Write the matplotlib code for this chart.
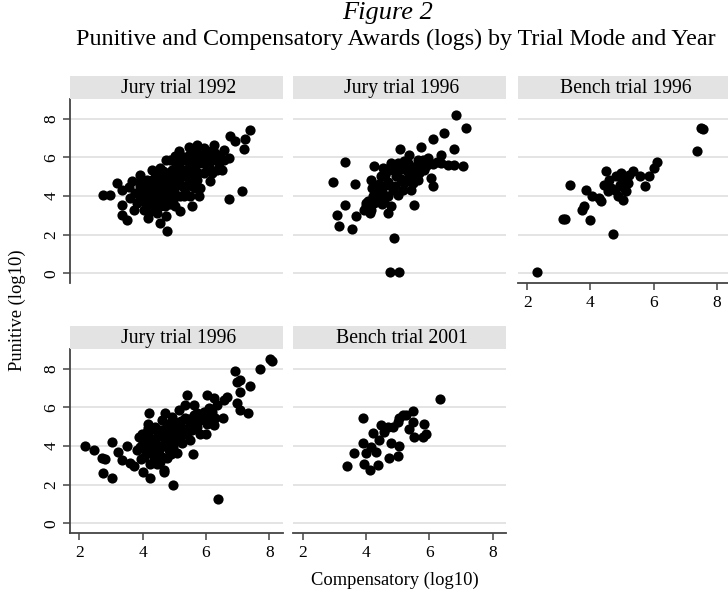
import matplotlib
matplotlib.use("Agg")
import matplotlib.pyplot as plt

plt.rcParams["font.family"] = ["Liberation Serif", "DejaVu Serif"]

# Jury trial 1992
jury92_x = [2.75, 2.95, 3.20, 3.34, 3.34, 3.50, 3.34, 3.55, 3.66, 3.60, 3.71, 3.92, 3.92, 3.92, 4.18,
            4.29, 4.34, 4.23, 4.55, 4.78, 4.74, 4.74, 5.03, 5.19, 5.13, 5.45, 5.71, 5.77, 5.55, 5.77,
            6.14, 6.24, 6.35, 6.50, 6.71, 6.56, 6.77, 6.93, 7.19, 7.24, 7.40, 6.71, 7.14,
            4.13, 4.24, 4.39, 4.45, 4.50, 4.55, 4.66, 4.76, 4.87, 4.92, 4.97, 5.08, 5.13, 5.24, 5.29,
            5.34, 5.40, 5.50, 5.55, 5.61, 5.66, 5.71, 5.82, 5.87, 5.92, 6.03, 6.08, 6.19, 6.29, 6.40,
            6.45, 6.56, 6.19,
            4.55, 4.66, 4.34, 4.03, 4.18, 3.81, 4.03, 4.87, 5.03, 5.19, 5.34, 5.50, 5.66, 5.82, 5.19,
            5.45, 5.92, 6.03, 5.61, 4.03, 4.45, 4.24, 4.55, 4.39, 3.92, 3.76, 4.66, 4.87, 5.03, 5.24,
            5.40,
            4.50, 4.60, 4.70, 4.40, 4.80, 4.30, 5.00, 4.90, 5.10, 4.60,
            4.35, 4.45, 4.55, 4.65, 4.75, 4.85, 4.95, 5.05, 5.15, 5.25, 5.35, 5.45, 5.55, 5.65, 5.75,
            5.85, 5.45, 5.00, 4.60, 4.30, 4.20, 4.10, 4.85, 5.30, 6.00, 6.30, 4.70, 4.40]
jury92_y = [4.05, 4.05, 4.67, 3.54, 3.03, 2.77, 4.29, 4.46, 4.75, 3.89, 3.28, 5.10, 4.50, 3.98, 2.85,
            5.36, 4.67, 3.98, 2.60, 2.20, 2.94, 5.84, 3.46, 3.20, 6.31, 6.53, 6.65, 6.22, 3.46, 3.98,
            4.75, 6.65, 5.36, 5.36, 5.96, 6.39, 7.08, 6.83, 6.45, 6.95, 7.43, 3.84, 4.23,
            4.84, 4.32, 4.49, 3.80, 5.01, 4.15, 4.67, 5.18, 4.32, 5.36, 3.80, 4.84, 5.70, 4.49, 5.36,
            5.88, 5.01, 5.53, 4.49, 6.05, 5.36, 4.84, 5.70, 6.39, 5.18, 6.05, 5.53, 5.88, 6.22, 5.70,
            6.05, 5.88, 5.18,
            3.46, 3.72, 3.46, 3.72, 3.54, 3.63, 4.32, 5.88, 6.05, 3.98, 4.15, 3.98, 4.41, 4.41, 6.13,
            6.13, 6.48, 6.31, 6.39, 3.28, 3.11, 3.20, 5.44, 5.18, 4.75, 4.15, 4.06, 4.84, 4.49, 5.01,
            4.58,
            4.40, 4.90, 4.30, 4.70, 4.00, 4.10, 4.20, 4.60, 5.10, 3.90,
            4.35, 4.95, 4.55, 5.30, 4.45, 5.05, 4.15, 5.55, 4.75, 5.20, 4.45, 5.30, 4.95, 5.60, 5.20,
            6.00, 5.75, 5.00, 4.20, 4.80, 4.50, 4.20, 3.60, 4.00, 5.60, 6.00, 3.50, 3.70]

# Jury trial 1996 (top row)
jury96a_x = [6.84, 7.16, 6.47, 6.13, 5.74, 5.08, 5.37, 6.79, 6.37, 7.05, 6.79, 6.58, 6.37, 3.34, 2.97,
             3.65, 4.26, 4.79, 6.05, 6.11, 3.32, 3.08, 3.16, 3.55, 3.68, 4.11, 4.00, 4.68, 4.79, 5.51,
             4.89, 4.77, 5.05,
             4.16, 4.21, 4.37, 4.47, 4.58, 4.63, 4.74, 4.84, 4.95, 5.00, 5.11, 5.21, 5.26, 5.37, 5.47,
             5.58, 5.68, 5.79, 5.89, 5.95, 4.05, 4.26, 4.42, 4.26, 4.53, 5.00, 5.16, 5.32, 5.63, 5.84,
             4.16, 3.95, 4.68, 5.42, 5.63,
             4.40, 4.50, 4.60, 4.70, 4.80, 4.90, 5.00, 5.10, 5.20, 5.30, 5.40, 5.50, 4.30, 4.20, 4.00,
             4.50, 5.70, 5.90, 6.10, 6.25]
jury96a_y = [8.17, 7.52, 7.26, 6.95, 6.53, 6.43, 6.13, 6.43, 6.13, 5.53, 5.62, 5.62, 5.70, 5.74, 4.70,
             4.61, 5.53, 5.70, 4.93, 4.53, 3.54, 3.03, 2.46, 2.30, 2.97, 3.11, 3.63, 3.11, 3.46, 3.54,
             1.82, 0.04, 0.04,
             4.84, 3.98, 4.32, 5.01, 3.80, 4.58, 5.36, 4.32, 5.01, 4.06, 5.53, 4.67, 5.36, 5.01, 4.67,
             5.53, 5.18, 5.88, 5.53, 5.96, 3.72, 3.63, 3.98, 4.58, 5.44, 5.70, 4.32, 5.70, 5.88, 5.36,
             3.28, 3.28, 3.98, 4.32, 4.84,
             4.60, 4.20, 5.10, 4.70, 5.60, 4.50, 5.30, 4.90, 5.80, 4.80, 5.50, 5.10, 4.00, 4.40, 3.50,
             3.60, 5.60, 5.80, 5.65, 5.75]

# Bench trial 1996
bench96_x = [7.50, 7.55, 7.37, 6.11, 6.00, 5.86, 5.71, 5.55, 5.34, 4.49, 3.34, 3.86, 4.04, 3.81, 3.73,
             3.13, 3.20, 4.00, 4.34, 4.71, 2.31, 5.02, 4.86,
             4.44, 4.60, 4.65, 4.81, 4.92, 5.02, 5.07, 5.18, 5.13, 4.76, 4.55, 4.97, 5.23, 4.28]
bench96_y = [7.50, 7.45, 6.34, 5.74, 5.44, 5.05, 4.53, 5.05, 5.27, 5.27, 4.58, 4.32, 4.01, 3.46, 3.25,
             2.80, 2.80, 2.73, 3.72, 2.02, 0.04, 3.80, 4.01,
             4.58, 4.84, 4.41, 5.01, 4.58, 4.93, 4.41, 4.67, 4.23, 4.32, 4.23, 5.18, 5.10, 3.89]

# Jury trial 1996 (bottom row)
jury96b_x = [8.01, 8.09, 7.72, 6.93, 7.08, 6.98, 7.38, 7.08, 6.98, 7.08, 7.33, 6.66, 6.56, 6.35, 6.03,
             6.24, 6.54, 6.26, 6.01, 5.40, 5.34, 5.61, 4.20, 4.71, 2.18, 2.47, 2.71, 2.81, 2.73, 3.02,
             3.02, 3.21, 3.34, 3.50, 3.60, 3.73, 4.00, 4.22, 4.68, 4.97, 5.59, 6.37,
             3.87, 3.92, 4.08, 4.13, 4.18, 4.29, 4.34, 4.45, 4.50, 4.55, 4.61, 4.71, 4.76, 4.82, 4.87,
             4.97, 5.03, 5.08, 5.19, 5.24, 5.34, 5.40, 5.50, 5.61, 5.71, 5.82, 5.92, 6.08, 6.19, 6.29,
             6.03, 4.92, 5.13, 4.66, 4.39, 4.03, 4.24, 4.55, 4.76, 3.81, 3.97, 4.39, 5.08, 5.50, 5.82,
             4.61, 4.18, 4.82, 5.24, 4.66,
             4.00, 4.10, 4.20, 4.30, 4.40, 4.50, 4.60, 4.70, 4.80, 4.90, 5.00, 5.10, 5.20, 5.30, 5.45,
             5.60, 5.70, 5.90, 6.10, 4.35, 4.45, 4.90, 3.95, 4.15, 5.55]
jury96b_y = [8.48, 8.40, 7.97, 7.86, 7.40, 7.31, 7.10, 6.80, 6.23, 5.85, 5.68, 6.54, 6.36, 6.11, 6.62,
             6.50, 5.42, 5.07, 4.64, 6.61, 6.11, 6.11, 5.68, 5.68, 3.99, 3.78, 3.35, 3.30, 2.61, 2.35,
             4.21, 3.70, 3.27, 3.99, 3.13, 2.96, 2.66, 2.35, 2.63, 1.98, 3.56, 1.24,
             4.47, 3.96, 4.21, 4.73, 3.61, 4.13, 3.27, 4.47, 3.78, 4.82, 3.44, 4.21, 5.16, 3.78, 4.64,
             3.96, 5.25, 4.47, 4.99, 4.13, 5.42, 4.64, 5.16, 5.59, 4.99, 5.33, 5.76, 5.50, 5.76, 5.42,
             5.16, 5.50, 5.85, 4.64, 3.96, 3.44, 3.09, 3.18, 3.35, 3.78, 4.64, 4.99, 3.61, 4.30, 4.64,
             5.33, 5.16, 4.30, 4.56, 2.75,
             4.20, 3.80, 4.45, 4.90, 4.25, 4.60, 4.00, 4.90, 4.45, 5.00, 4.25, 4.80, 5.30, 4.90, 5.40,
             5.20, 5.70, 5.45, 5.95, 3.55, 3.05, 3.60, 3.30, 4.95, 4.85]

# Bench trial 2001
bench01_x = [6.35, 3.91, 5.47, 5.26, 5.05, 5.00, 4.84, 4.68, 4.47, 4.21, 4.42, 4.58, 5.37, 5.53, 5.47,
             5.84, 5.89, 5.79, 4.79, 5.05, 5.00, 4.74, 3.89, 3.63, 4.00, 4.32, 3.95, 4.11, 4.37, 3.39,
             4.16, 5.16]
bench01_y = [6.45, 5.42, 5.81, 5.59, 5.47, 5.25, 4.99, 4.99, 5.07, 4.68, 4.30, 4.73, 4.90, 4.47, 5.25,
             5.16, 4.64, 4.47, 4.13, 3.99, 3.47, 3.35, 4.13, 3.61, 3.61, 3.70, 3.06, 2.75, 3.01, 2.97,
             3.96, 5.59]

panel_titles = ["Jury trial 1992", "Jury trial 1996", "Bench trial 1996",
                "Jury trial 1996", "Bench trial 2001"]
panel_data = [(jury92_x, jury92_y), (jury96a_x, jury96a_y), (bench96_x, bench96_y),
              (jury96b_x, jury96b_y), (bench01_x, bench01_y)]
panel_cells = [(0, 0), (0, 1), (0, 2), (1, 0), (1, 1)]
x_ticks = [2, 4, 6, 8]
y_ticks = [0, 2, 4, 6, 8]

W, H = 728, 599
fig = plt.figure(figsize=(W / 100, H / 100), dpi=100)

col_left = [70, 293.3, 517.7]
row_top = [99.3, 349.3]
plot_w, plot_h, strip_h = 212.6, 183.6, 23.5
axis_col = "#444444"


def box(left, top, w, h):
    return [left / W, 1 - (top + h) / H, w / W, h / H]


for title, (xs, ys), (r, c) in zip(panel_titles, panel_data, panel_cells):
    ax = fig.add_axes(box(col_left[c], row_top[r], plot_w, plot_h))
    ax.scatter(xs, ys, s=54, color="black", linewidths=0, zorder=3)
    ax.set_xlim(1.7, 8.42)
    ax.set_ylim(-0.5, 9.0)
    ax.set_xticks(x_ticks)
    ax.set_yticks(y_ticks)
    ax.grid(axis="y", color="#e4e4e4", linewidth=1.4)
    ax.grid(axis="x", visible=False)
    ax.set_axisbelow(True)
    for side in ["top", "right"]:
        ax.spines[side].set_visible(False)
    show_y = c == 0
    show_x = r == 1 or c == 2
    ax.spines["left"].set_visible(show_y)
    ax.spines["bottom"].set_visible(show_x)
    for side in ["left", "bottom"]:
        ax.spines[side].set_color(axis_col)
        ax.spines[side].set_linewidth(1.3)
    ax.tick_params(axis="y", left=show_y, labelleft=show_y, length=5, width=1.1,
                   color=axis_col, pad=2.5, labelsize=12.5)
    ax.tick_params(axis="x", bottom=show_x, labelbottom=show_x, length=5, width=1.1,
                   color=axis_col, pad=3.5, labelsize=12.5)
    if show_y:
        for lab in ax.get_yticklabels():
            lab.set_rotation(90)
            lab.set_va("center")

    sax = fig.add_axes(box(col_left[c], row_top[r] - strip_h, plot_w, strip_h))
    sax.set_facecolor("#e3e3e3")
    sax.set_xticks([])
    sax.set_yticks([])
    for s in sax.spines.values():
        s.set_visible(False)
    sax.text(0.51, 0.45, title, ha="center", va="center", fontsize=14.2, transform=sax.transAxes)

fig.text(388 / W, 1 - 13 / H, "Figure 2", ha="center", va="center", fontsize=19, style="italic")
fig.text(396 / W, 1 - 39 / H, "Punitive and Compensatory Awards (logs) by Trial Mode and Year",
         ha="center", va="center", fontsize=17.3)
fig.text(17 / W, 1 - 310 / H, "Punitive (log10)", rotation=90, ha="center", va="center", fontsize=13.3)
fig.text(395 / W, 1 - 580 / H, "Compensatory (log10)", ha="center", va="center", fontsize=13.3)

fig.savefig("out.png", dpi=100)
